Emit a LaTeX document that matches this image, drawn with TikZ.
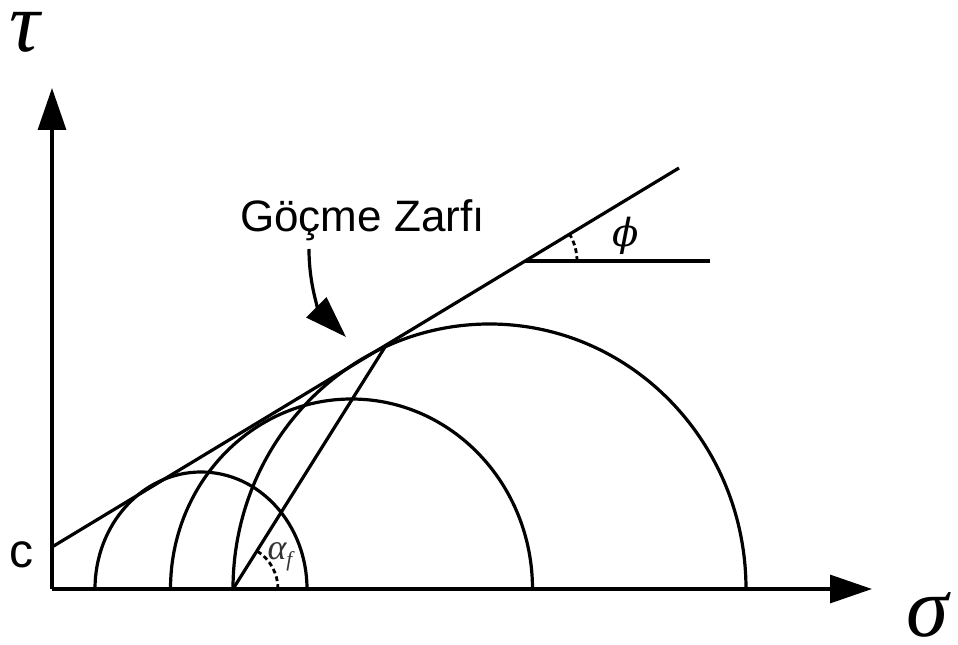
\documentclass[tikz,border=0pt]{standalone}
\usepackage{fontspec}
\setmainfont{Liberation Serif}
\newfontfamily\labelfont{Liberation Sans}
\newfontfamily\dvserif{DejaVu Serif}
\usetikzlibrary{arrows.meta}
\begin{document}
\begin{tikzpicture}[x=0.75pt,y=0.75pt,
  ln/.style={line width=2.4pt,line cap=butt},
  axisarrow/.style={ln,-{Triangle[length=31.5pt,width=21pt]}},
  dotarc/.style={line width=2.1pt,dash pattern=on 3.6pt off 2.4pt},
  greek/.style={inner sep=0pt,font=\fontsize{64}{66}\selectfont\itshape},
  sanslbl/.style={inner sep=0pt,font=\labelfont\fontsize{33}{36}\selectfont}]
\useasboundingbox (0,0) rectangle (958,644);
% axes
\coordinate (O) at (52,55);
\coordinate (Ytip) at (52,556);
\coordinate (Xtip) at (872,55);
\draw[axisarrow] (O) -- (Ytip);
\draw[axisarrow] (O) -- (Xtip);
% failure envelope
\coordinate (E1) at (52,97);
\coordinate (E2) at (679,476);
\draw[ln] (E1) -- (E2);
% Mohr circles
\coordinate (C1L) at (95,55);
\coordinate (C2L) at (170.5,55);
\coordinate (C3L) at (233,55);
\draw[ln] (C1L) arc[start angle=180,end angle=0,x radius=106,y radius=117];
\draw[ln] (C2L) arc[start angle=180,end angle=0,x radius=181,y radius=190];
\draw[ln] (C3L) arc[start angle=180,end angle=0,x radius=256.5,y radius=265];
% failure plane line
\coordinate (T) at (385,297);
\draw[ln] (C3L) -- (T);
% phi construction
\coordinate (P) at (525,383);
\coordinate (PH) at (710,383);
\draw[ln] (P) -- (PH);
\draw[dotarc] (P) ++(52,0) arc[start angle=0,end angle=31.15,radius=52];
\draw[dotarc] (C3L) ++(45,0) arc[start angle=0,end angle=57.9,radius=45];
% labels
\node[greek] (tau) at (25,612) {τ};
\node[greek] (sigma) at (928,29) {σ};
\node[sanslbl,font=\labelfont\fontsize{36}{40}\selectfont] (c) at (22,89) {c};
\node[inner sep=0pt,font=\dvserif\itshape\fontsize{29}{31}\selectfont] (phi) at (626,408) {ϕ};
\node[inner sep=0pt,font=\fontsize{27}{29}\selectfont\itshape,text=black!80] (alpha) at (280,87) {α\raisebox{-0.4ex}{\fontsize{16}{17}\selectfont f}};
\node[sanslbl,anchor=base west] (env) at (240,412) {Göçme Zarfı};
% curved arrow
\coordinate (A1) at (309,395);
\coordinate (A2) at (346,307);
\draw[ln,-{Triangle[length=31.5pt,width=21pt]}] (A1) to[out=-90,in=135] (A2);
\end{tikzpicture}
\end{document}
